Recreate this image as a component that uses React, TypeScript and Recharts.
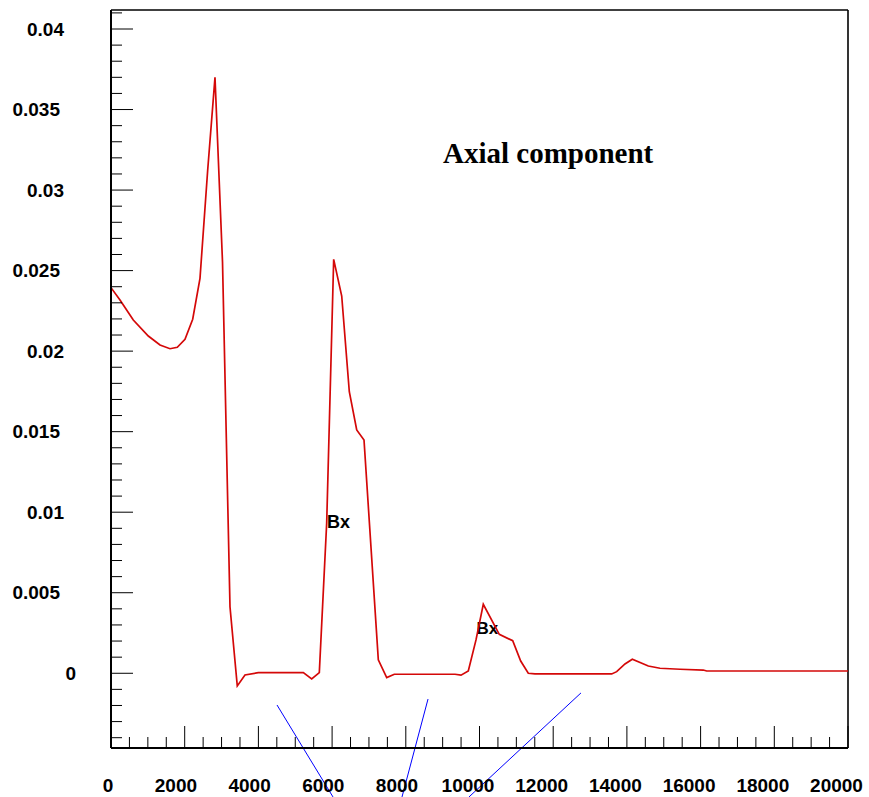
import React from 'react';
import { LineChart, Line, XAxis, YAxis, ReferenceLine } from 'recharts';

// Position along the beam axis
const xValues = [
  0, 244, 605, 1012, 1330, 1601, 1799, 2008, 2217, 2415, 2624, 2822, 3026, 3229, 3427, 3636,
  3997, 5219, 5446, 5653, 5853, 6043, 6261, 6467, 6668, 6866, 7254, 7482, 7688, 9335, 9498,
  9696, 9905, 10103, 10537, 10901, 11118, 11324, 11506, 13588, 13723, 13948, 14147, 14581,
  14898, 15441, 16073, 16165, 20000,
];
// Axial component Bx
const bxValues = [
  0.02394, 0.02318, 0.02193, 0.02094, 0.02038, 0.02015, 0.02024, 0.02074, 0.02198, 0.02452,
  0.03125, 0.037, 0.02554, 0.00413, -0.00079, -0.00011, 0.00004, 0.00004, -0.00035, 0.00004,
  0.00933, 0.0257, 0.02342, 0.01748, 0.01511, 0.01448, 0.00083, -0.00027, -0.00006, -0.00006,
  -0.00012, 0.00014, 0.00207, 0.00428, 0.00242, 0.00202, 0.00076, 0.0, -0.00004, -0.00004,
  0.0001, 0.00058, 0.00087, 0.00045, 0.00031, 0.00025, 0.0002, 0.00014, 0.00014,
];

const xTicks = [
  0, 500, 1000, 1500, 2000, 2500, 3000, 3500, 4000, 4500, 5000, 5500, 6000, 6500, 7000, 7500,
  8000, 8500, 9000, 9500, 10000, 10500, 11000, 11500, 12000, 12500, 13000, 13500, 14000, 14500,
  15000, 15500, 16000, 16500, 17000, 17500, 18000, 18500, 19000, 19500, 20000,
];
const xTickLabels = ['0', '2000', '4000', '6000', '8000', '10000', '12000', '14000', '16000', '18000', '20000'];

const yTicks = [
  -0.004, -0.003, -0.002, -0.001, 0, 0.001, 0.002, 0.003, 0.004, 0.005, 0.006, 0.007, 0.008,
  0.009, 0.01, 0.011, 0.012, 0.013, 0.014, 0.015, 0.016, 0.017, 0.018, 0.019, 0.02, 0.021,
  0.022, 0.023, 0.024, 0.025, 0.026, 0.027, 0.028, 0.029, 0.03, 0.031, 0.032, 0.033, 0.034,
  0.035, 0.036, 0.037, 0.038, 0.039, 0.04, 0.041,
];
const yTickLabels = ['0', '0.005', '0.01', '0.015', '0.02', '0.025', '0.03', '0.035', '0.04'];

const xDomain = [0, 20000];
const yDomain = [-0.00464, 0.04118];

// Blue guide segments (data coordinates)
const blueSegments = [
  [{ x: 4505, y: -0.00197 }, { x: 6024, y: -0.00768 }],
  [{ x: 8603, y: -0.0016 }, { x: 7897, y: -0.00768 }],
  [{ x: 12754, y: -0.00122 }, { x: 9715, y: -0.00768 }],
];

const data = xValues.map((x, i) => ({ x, bx: bxValues[i] }));

const LABEL_FONT = '"Liberation Sans", Arial, sans-serif';

const YTick = (props: any) => {
  const { x, y, payload } = props;
  const v = payload.value as number;
  const idx = Math.round(v * 1000);
  const major = idx % 5 === 0;
  const label = major ? yTickLabels[idx / 5] : undefined;
  let right = x - 47;
  if (label && label.length === 5) right = x - 51;
  if (label && label.length === 1) right = x - 35;
  return (
    <g>
      <line x1={x} x2={x + (major ? 22 : 11)} y1={y} y2={y} stroke="#000" strokeWidth={1} />
      {label !== undefined && (
        <text x={right} y={y + 6.7} textAnchor="end" fontFamily={LABEL_FONT} fontWeight="bold" fontSize={19} fill="#000">
          {label}
        </text>
      )}
    </g>
  );
};

const XTick = (props: any) => {
  const { x, y, payload } = props;
  const v = payload.value as number;
  const major = v % 2000 === 0;
  const label = major ? xTickLabels[v / 2000] : undefined;
  let dx = -8.8;
  if (label && label.length === 1) dx = -3;
  if (label && label.length === 5) dx = -11.5;
  return (
    <g>
      <line x1={x} x2={x} y1={y} y2={y - (major ? 22 : 11)} stroke="#000" strokeWidth={1} />
      {label !== undefined && (
        <text x={x + dx} y={y + 43.7} textAnchor="middle" fontFamily={LABEL_FONT} fontWeight="bold" fontSize={19} fill="#000">
          {label}
        </text>
      )}
    </g>
  );
};

export default function App() {
  return (
    <div style={{ position: 'absolute', left: 0, top: 0, background: '#fff' }}>
      <LineChart width={869} height={797} data={data} margin={{ top: 10, right: 21, bottom: 0, left: 0 }}>
        <XAxis
          dataKey="x"
          type="number"
          domain={xDomain}
          allowDataOverflow
          ticks={xTicks}
          interval={0}
          height={49}
          tickSize={0}
          tickMargin={0}
          tickLine={false}
          axisLine={{ stroke: '#000', strokeWidth: 2 }}
          tick={<XTick />}
        />
        <YAxis
          type="number"
          domain={yDomain}
          allowDataOverflow
          ticks={yTicks}
          interval={0}
          width={111}
          tickSize={0}
          tickMargin={0}
          tickLine={false}
          axisLine={{ stroke: '#000', strokeWidth: 2 }}
          tick={<YTick />}
        />
        <ReferenceLine y={yDomain[1]} stroke="#000" strokeWidth={1.6} ifOverflow="visible" />
        <ReferenceLine x={xDomain[1]} stroke="#000" strokeWidth={1.6} ifOverflow="visible" />
        <Line
          type="linear"
          dataKey="bx"
          stroke="#d40808"
          strokeWidth={1.7}
          dot={false}
          isAnimationActive={false}
        />
        {blueSegments.map((seg, i) => (
          <ReferenceLine key={i} segment={seg} stroke="#0000ff" strokeWidth={1} ifOverflow="visible" />
        ))}
        <text x={443} y={163.3} fontFamily='"Liberation Serif", "Times New Roman", serif' fontWeight="bold" fontSize={29} fill="#000">
          Axial component
        </text>
        <text x={327} y={527.7} fontFamily={LABEL_FONT} fontWeight="bold" fontSize={18} fill="#000">
          Bx
        </text>
        <text x={476.5} y={634.3} fontFamily={LABEL_FONT} fontWeight="bold" fontSize={17} fill="#000">
          Bx
        </text>
      </LineChart>
    </div>
  );
}
